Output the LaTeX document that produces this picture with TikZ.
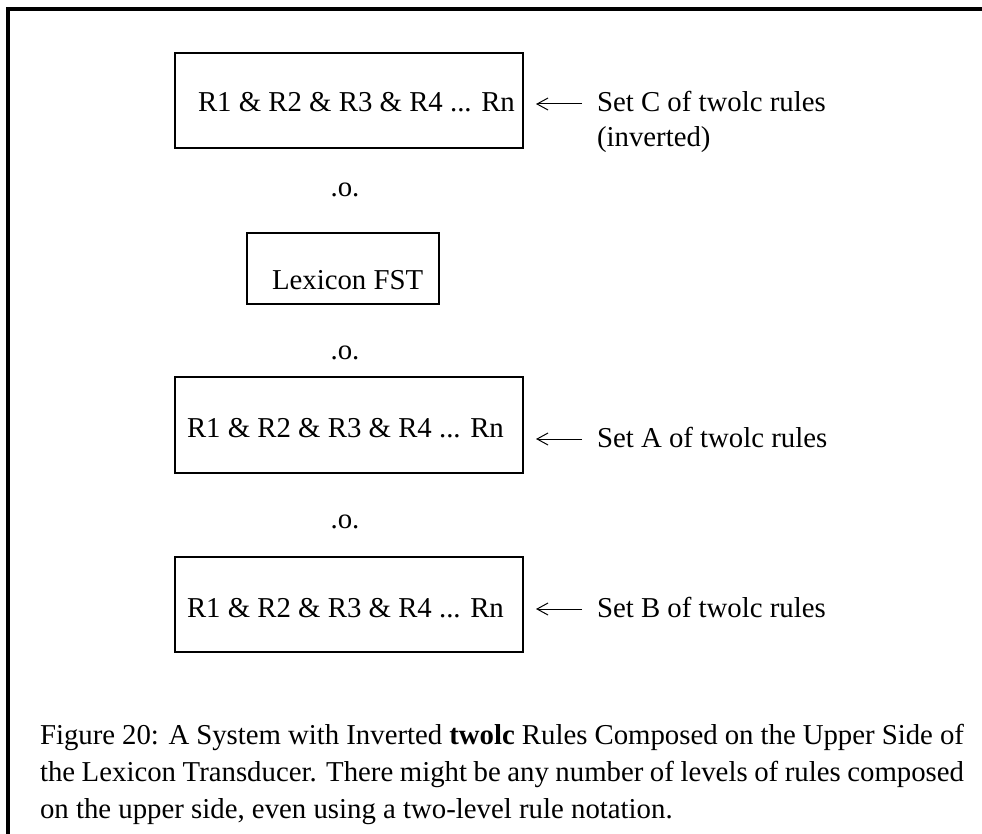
\documentclass[tikz,border=0pt]{standalone}
\usepackage{fontspec}
\setmainfont{Liberation Serif}
\usetikzlibrary{arrows.meta}
\begin{document}
\begin{tikzpicture}[x=1pt,y=-1pt,
  every node/.style={inner sep=0pt, outer sep=0pt, font=\fontsize{28.8pt}{37pt}\selectfont},
  boxst/.style={draw, line width=1.3pt, rectangle},
  txt/.style={anchor=base west},
  arr/.style={line width=1pt, -{Straight Barb[length=11pt,width=12pt]}, shorten >=13pt}
]
\useasboundingbox (0,0) rectangle (982,834);
% frame
\draw[line width=4pt, line join=miter] (8,834) -- (8,9) -- (982,9);

% box C (top)
\node[boxst, minimum width=348pt, minimum height=95pt] (b1) at (349,100.5) {};
\node[txt] (t1) at (198,112) {R1 \& R2 \& R3 \& R4 ... Rn};
\node[txt] (lc1) at (597,112) {Set C of twolc rules};
\node[txt] (lc2) at (597,147) {(inverted)};
\coordinate (aC) at (582,104);
\draw[arr] (aC) -- (b1.east |- aC);

\node[txt, anchor=base] (o1) at (345,197) {.o.};

% lexicon
\node[boxst, minimum width=192pt, minimum height=71pt] (b2) at (343,268.5) {};
\node[txt] (t2) at (272,290) {Lexicon FST};

\node[txt, anchor=base] (o2) at (345,359) {.o.};

% box A
\node[boxst, minimum width=348pt, minimum height=96pt] (b3) at (349,425) {};
\node[txt] (t3) at (187,437) {R1 \& R2 \& R3 \& R4 ... Rn};
\node[txt] (la) at (597,447) {Set A of twolc rules};
\coordinate (aA) at (582,439);
\draw[arr] (aA) -- (b3.east |- aA);

\node[txt, anchor=base] (o3) at (345,528) {.o.};

% box B
\node[boxst, minimum width=348pt, minimum height=95pt] (b4) at (349,604.5) {};
\node[txt] (t4) at (187,617) {R1 \& R2 \& R3 \& R4 ... Rn};
\node[txt] (lb) at (597,617) {Set B of twolc rules};
\coordinate (aB) at (582,609);
\draw[arr] (aB) -- (b4.east |- aB);

% caption
\node[anchor=base west, text width=924pt, align=justify] (cap) at (40,744)
{Figure 20: A System with Inverted \textbf{twolc} Rules Composed on the Upper Side of\linebreak
the Lexicon Transducer. There might be any number of levels of rules composed\linebreak
on the upper side, even using a two-level rule notation.};
\end{tikzpicture}
\end{document}
